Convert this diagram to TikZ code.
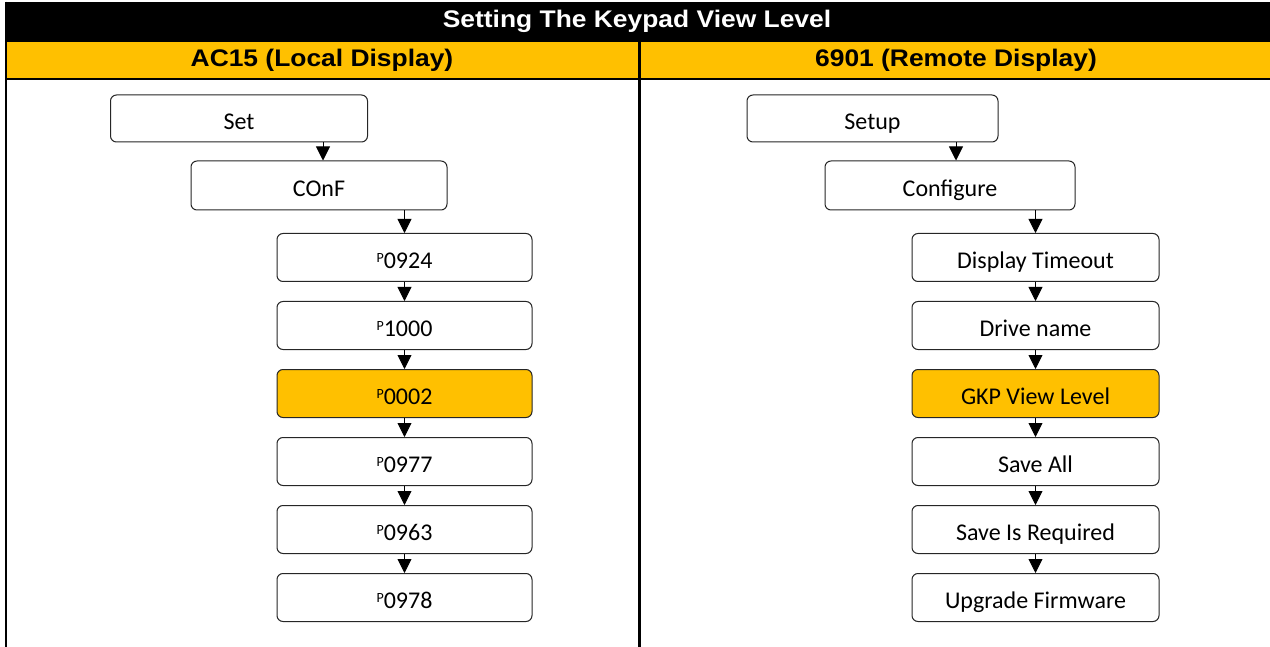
\documentclass[tikz,border=0pt]{standalone}
\usepackage{fontspec}
\setmainfont{Carlito}
\newfontfamily\hdrfont[FakeStretch=1.1]{Liberation Sans}
\usetikzlibrary{arrows.meta}
\definecolor{gold}{HTML}{FFC000}
\newcommand\psup{{\fontsize{14}{14}\selectfont\raisebox{6.3pt}{P}}}
\begin{document}
\begin{tikzpicture}[x=1pt,y=-1pt,
  stepbox/.style={draw=black!85, line width=1pt, rounded corners=6pt, minimum height=48pt,
    font=\fontsize{24}{28}\selectfont, inner sep=0pt, text height=22pt, text depth=0pt,
    fill=white, anchor=center},
  hl/.style={fill=gold},
  arr/.style={line width=0.9pt, -{Triangle[width=14pt,length=14pt]}},
  hdr/.style={font=\hdrfont\bfseries\fontsize{24}{28}\selectfont, inner sep=0pt, anchor=center},
]
\useasboundingbox (0,0) rectangle (1270,647);
% table
\fill[black] (5,1.7) rectangle (1270,42);
\fill[gold] (7,42) rectangle (1270,78);
\draw[line width=2.2pt] (5,79) -- (1270,79);
\draw[line width=2pt] (6,1.7) -- (6,647);
\draw[line width=2.4pt] (639.5,42) -- (639.5,647);
\node[hdr, text=white] (title) at (637,21.5) {Setting The Keypad View Level};
\node[hdr] (hleft) at (322,60) {AC15 (Local Display)};
\node[hdr] (hright) at (956,60) {6901 (Remote Display)};
% left column
\node[stepbox, minimum width=257pt, minimum height=47pt] (set) at (239,118.5) {Set};
\node[stepbox, minimum width=256pt, minimum height=49pt] (conf) at (319,185.5) {COnF};
\node[stepbox, minimum width=255pt] (l1) at (404.5,257.5) {\psup0924};
\node[stepbox, minimum width=255pt] (l2) at (404.5,325.5) {\psup1000};
\node[stepbox, hl, minimum width=255pt] (l3) at (404.5,393.5) {\psup0002};
\node[stepbox, minimum width=255pt] (l4) at (404.5,461.5) {\psup0977};
\node[stepbox, minimum width=255pt] (l5) at (404.5,529.5) {\psup0963};
\node[stepbox, minimum width=255pt] (l6) at (404.5,597.5) {\psup0978};
% right column
\node[stepbox, minimum width=251pt, minimum height=47pt] (setup) at (872.5,118.5) {Setup};
\node[stepbox, minimum width=250pt, minimum height=49pt] (cfg) at (950,185.5) {Configure};
\node[stepbox, minimum width=247pt] (r1) at (1035.5,257.5) {Display Timeout};
\node[stepbox, minimum width=247pt] (r2) at (1035.5,325.5) {Drive name};
\node[stepbox, hl, minimum width=247pt] (r3) at (1035.5,393.5) {GKP View Level};
\node[stepbox, minimum width=247pt] (r4) at (1035.5,461.5) {Save All};
\node[stepbox, minimum width=247pt] (r5) at (1035.5,529.5) {Save Is Required};
\node[stepbox, minimum width=247pt] (r6) at (1035.5,597.5) {Upgrade Firmware};
% arrows
\draw[arr] ([xshift=4pt]conf.north |- set.south) -- ([xshift=4pt]conf.north);
\draw[arr] (l1.north |- conf.south) -- (l1.north);
\draw[arr] (l1.south) -- (l2.north);
\draw[arr] (l2.south) -- (l3.north);
\draw[arr] (l3.south) -- (l4.north);
\draw[arr] (l4.south) -- (l5.north);
\draw[arr] (l5.south) -- (l6.north);
\draw[arr] ([xshift=6pt]cfg.north |- setup.south) -- ([xshift=6pt]cfg.north);
\draw[arr] (r1.north |- cfg.south) -- (r1.north);
\draw[arr] (r1.south) -- (r2.north);
\draw[arr] (r2.south) -- (r3.north);
\draw[arr] (r3.south) -- (r4.north);
\draw[arr] (r4.south) -- (r5.north);
\draw[arr] (r5.south) -- (r6.north);
\end{tikzpicture}
\end{document}
